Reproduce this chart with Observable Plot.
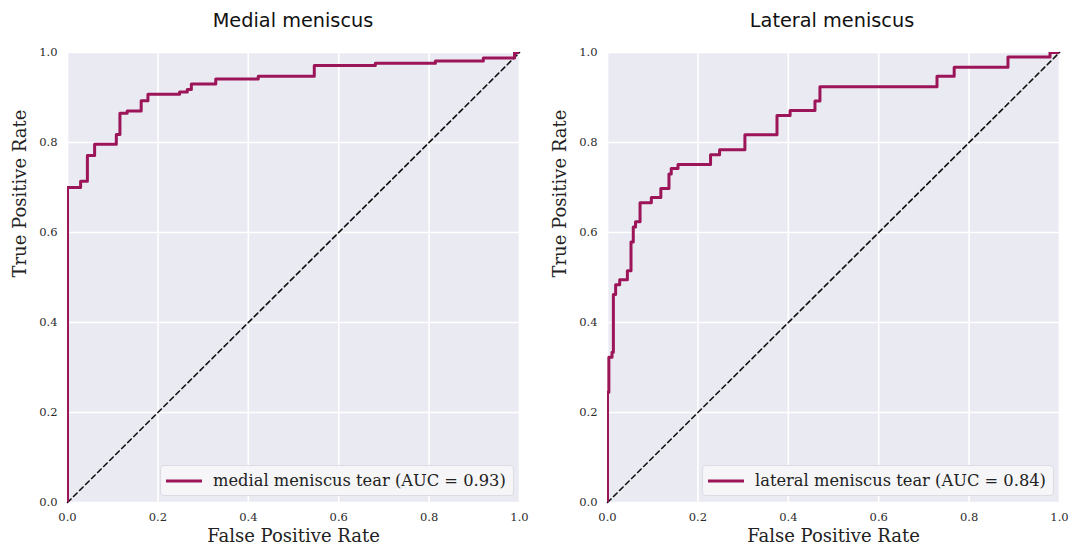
<!DOCTYPE html>
<html>
<head>
<meta charset="utf-8">
<script src="https://cdn.jsdelivr.net/npm/d3@7"></script>
<script src="https://cdn.jsdelivr.net/npm/@observablehq/plot@0.6"></script>
<style>
  html, body { margin: 0; padding: 0; background: #fff; }
  #root { position: relative; width: 1070px; height: 551px; overflow: hidden; }
  .panel { position: absolute; top: 40px; }
  .title { position: absolute; top: 9px; font-family: "DejaVu Sans", sans-serif; font-size: 19.3px; color: #111; transform: translateX(-50%); white-space: nowrap; }
  .legend { position: absolute; box-sizing: border-box; height: 31px; top: 465px; background: rgba(246,246,250,0.92); border: 1px solid #dcdce4; border-radius: 4px; display: flex; align-items: center; font-family: "DejaVu Serif", serif; font-size: 16.3px; color: #222; white-space: nowrap; }
  .legend svg { margin: 0 11px 0 5px; }
</style>
</head>
<body>
<div id="root"></div>
<script>
// ---- data ----
const panelTitles = ["Medial meniscus", "Lateral meniscus"];
const legendLabels = ["medial meniscus tear (AUC = 0.93)", "lateral meniscus tear (AUC = 0.84)"];
const tickValues = [0, 0.2, 0.4, 0.6, 0.8, 1.0];
const xLabel = "False Positive Rate";
const yLabel = "True Positive Rate";

const medialFpr = [0, 0, 0.029, 0.044, 0.060, 0.108, 0.116, 0.132, 0.163, 0.178, 0.248, 0.265, 0.274, 0.328, 0.422, 0.546, 0.681, 0.814, 0.920, 0.989, 1.0];
const medialTpr = [0, 0.700, 0.714, 0.771, 0.796, 0.818, 0.865, 0.870, 0.893, 0.907, 0.912, 0.918, 0.930, 0.941, 0.947, 0.971, 0.976, 0.981, 0.988, 1.0, 1.0];

const lateralFpr = [0, 0, 0.003, 0.010, 0.013, 0.018, 0.027, 0.044, 0.052, 0.057, 0.062, 0.072, 0.097, 0.118, 0.136, 0.141, 0.156, 0.228, 0.248, 0.304, 0.375, 0.404, 0.459, 0.470, 0.729, 0.767, 0.886, 0.979, 1.0];
const lateralTpr = [0, 0.245, 0.323, 0.334, 0.462, 0.484, 0.495, 0.515, 0.579, 0.612, 0.624, 0.666, 0.678, 0.698, 0.730, 0.742, 0.751, 0.773, 0.784, 0.817, 0.860, 0.871, 0.892, 0.924, 0.947, 0.967, 0.990, 1.0, 1.0];

const chanceFpr = [0, 1];
const chanceTpr = [0, 1];

// ---- styles ----
const lineColor = "#9c1558";
const bgColor = "#eaeaf2";

function makeRows(xs, ys) { return xs.map((x, i) => ({fpr: x, tpr: ys[i]})); }

function rocPlot(rows, width, marginRight) {
  return Plot.plot({
    width: width,
    height: 511,
    marginLeft: 67,
    marginRight: marginRight,
    marginTop: 12,
    marginBottom: 49,
    style: {fontFamily: "DejaVu Serif, serif", fontSize: "11.5px", color: "#2a2a2a", background: "transparent", overflow: "visible"},
    x: {domain: [0, 1], ticks: tickValues, tickFormat: d3.format(".1f"), tickSize: 0, tickPadding: 10, label: null},
    y: {domain: [0, 1], ticks: tickValues, tickFormat: d3.format(".1f"), tickSize: 0, tickPadding: 10, label: null},
    marks: [
      Plot.frame({fill: bgColor, stroke: "none"}),
      Plot.ruleX(tickValues, {stroke: "white", strokeWidth: 1.6}),
      Plot.ruleY(tickValues, {stroke: "white", strokeWidth: 1.6}),
      Plot.line(makeRows(chanceFpr, chanceTpr), {x: "fpr", y: "tpr", stroke: "#111", strokeWidth: 1.6, strokeDasharray: "5,3.5"}),
      Plot.line(rows, {x: "fpr", y: "tpr", curve: "step-after", stroke: lineColor, strokeWidth: 3, clip: true}),
      Plot.text([xLabel], {frameAnchor: "bottom", dy: 39, fontSize: 18, fill: "#222"}),
      Plot.text([yLabel], {frameAnchor: "left", rotate: -90, dx: -47, fontSize: 18, fill: "#222"})
    ]
  });
}

const root = document.getElementById("root");
const panels = [
  {rows: makeRows(medialFpr, medialTpr), left: 0, width: 540, mr: 21, titleX: 293, legendLeft: 160, legendWidth: 354},
  {rows: makeRows(lateralFpr, lateralTpr), left: 540, width: 530, mr: 11, titleX: 832, legendLeft: 702, legendWidth: 352}
];

panels.forEach((p, i) => {
  const t = document.createElement("div");
  t.className = "title";
  t.style.left = p.titleX + "px";
  t.textContent = panelTitles[i];
  root.appendChild(t);

  const d = document.createElement("div");
  d.className = "panel";
  d.style.left = p.left + "px";
  d.appendChild(rocPlot(p.rows, p.width, p.mr));
  root.appendChild(d);

  const lg = document.createElement("div");
  lg.className = "legend";
  lg.style.left = p.legendLeft + "px";
  lg.style.width = p.legendWidth + "px";
  lg.innerHTML = `<svg width="36" height="6"><line x1="0" x2="36" y1="3" y2="3" stroke="${lineColor}" stroke-width="3"/></svg><span></span>`;
  lg.querySelector("span").textContent = legendLabels[i];
  root.appendChild(lg);
});
</script>
</body>
</html>
